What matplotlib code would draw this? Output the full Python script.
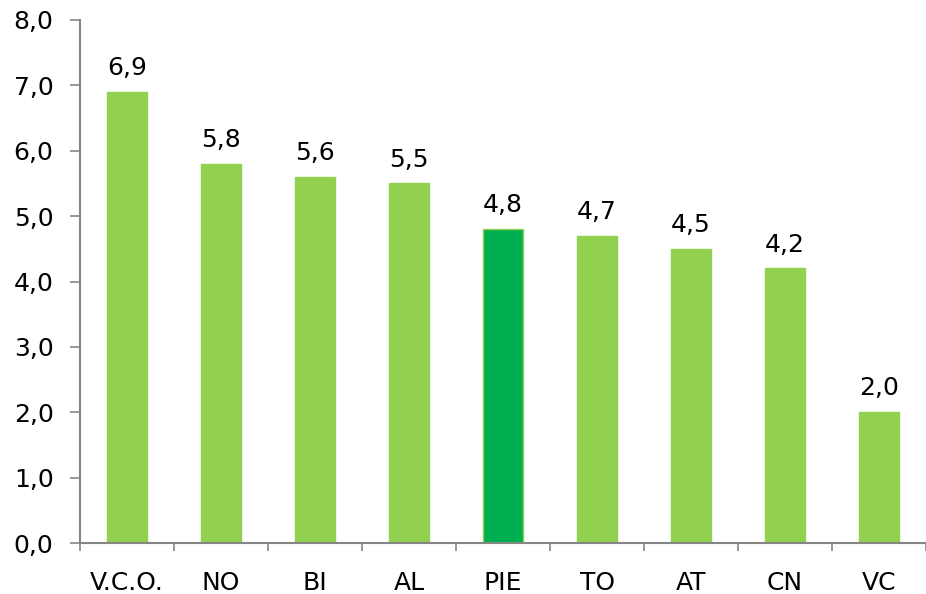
import matplotlib
matplotlib.use("Agg")
import matplotlib.pyplot as plt
import numpy as np

categories = ["V.C.O.", "NO", "BI", "AL", "PIE", "TO", "AT", "CN", "VC"]
values = [6.9, 5.8, 5.6, 5.5, 4.8, 4.7, 4.5, 4.2, 2.0]
yticks = [0, 1, 2, 3, 4, 5, 6, 7, 8]

fig = plt.figure(figsize=(9.26, 5.94), dpi=100)
ax = fig.add_axes([80/926, 1-543/594, 1-80/926, (543-20)/594])

x = np.arange(len(categories))
colors = ["#00B050" if c == "PIE" else "#92D050" for c in categories]
bars = ax.bar(x, values, width=0.42, color=colors, edgecolor="#92D050", linewidth=1.0, zorder=2)

FS = 18
for xi, v in zip(x, values):
    ax.text(xi, v + 0.18, f"{v:.1f}".replace(".", ","), ha="center", va="bottom",
            fontsize=FS, color="#000000")

ax.set_xlim(-0.5, 8.5)
ax.set_ylim(0, 8)
ax.set_yticks(yticks)
ax.set_yticklabels([f"{t:.1f}".replace(".", ",") for t in yticks], fontsize=FS)
ax.set_xticks(x)
ax.set_xticklabels(categories, fontsize=FS)
ax.tick_params(axis="x", which="major", length=0, pad=20)
ax.set_xticks(np.arange(-0.5, 9.0, 1.0), minor=True)
ax.tick_params(axis="x", which="minor", length=6, width=1.2, color="#868686", direction="out")
ax.tick_params(axis="y", length=7, width=1.2, color="#868686", direction="out", pad=12)

for s in ["top", "right"]:
    ax.spines[s].set_visible(False)
for s in ["left", "bottom"]:
    ax.spines[s].set_color("#868686")
    ax.spines[s].set_linewidth(1.5)

fig.savefig("out.png", dpi=100)
